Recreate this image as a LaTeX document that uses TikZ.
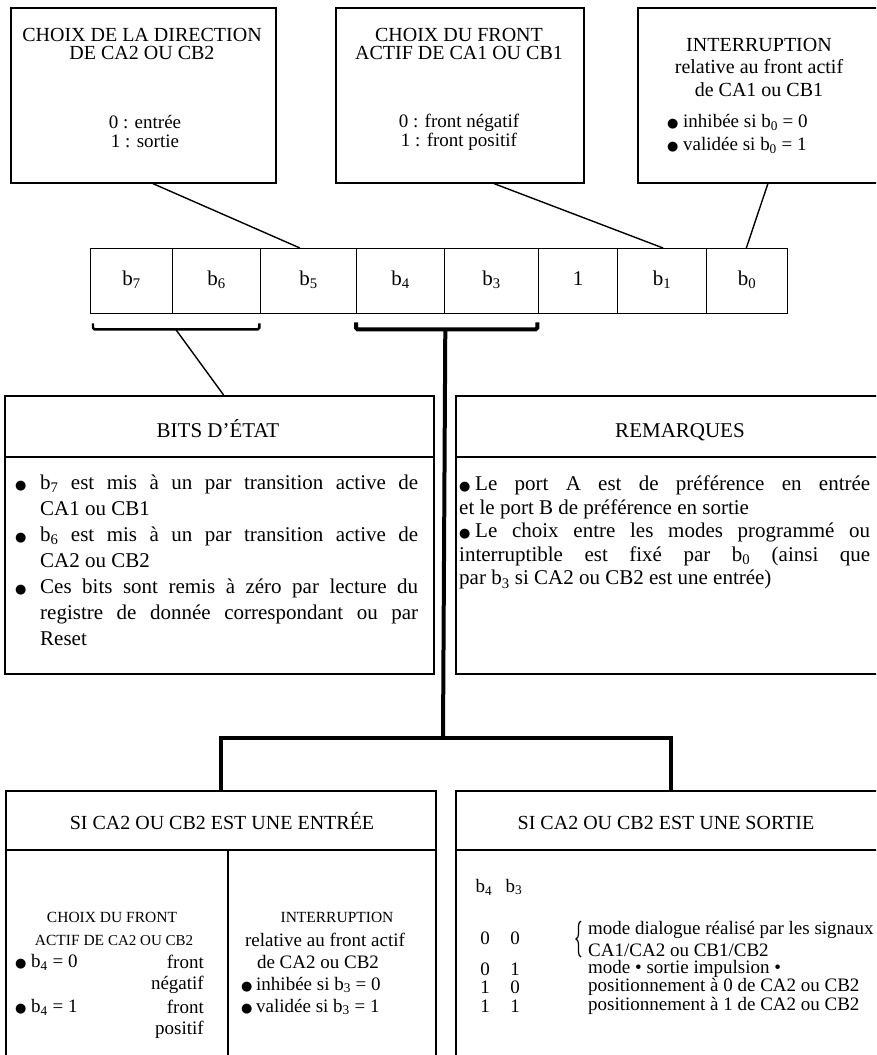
\documentclass[tikz,border=0pt]{standalone}
\usepackage{fontspec}
\setmainfont{Liberation Serif}
\newfontfamily\symfont{DejaVu Sans}
\usetikzlibrary{calc,decorations.pathreplacing}
\newcommand{\bul}{{\symfont\fontsize{13}{13}\selectfont ●}}
\newcommand{\bs}[1]{b\textsubscript{#1}}
\newcommand{\fs}[2]{\fontsize{#1}{#2}\selectfont}
\begin{document}
\begin{tikzpicture}[x=1pt,y=-1pt,
  frame/.style={draw, line width=1.6pt, anchor=north west, inner sep=0pt},
  cell/.style={draw, line width=1.3pt, anchor=north west, inner sep=0pt, minimum height=65pt, text height=14pt, text depth=5pt, font=\fs{21}{21}},
  lightline/.style={line width=1.4pt},
  heavy/.style={line width=4pt},
  divider/.style={line width=1.6pt},
  txt/.style={inner sep=0pt, align=center, font=\fs{20}{18}},
  head/.style={inner sep=0pt, anchor=base, font=\fs{21}{21}},
  ltxt/.style={inner sep=0pt, anchor=west, font=\fs{19}{19}},
  rtxt/.style={inner sep=0pt, anchor=east, font=\fs{19}{19}},
  body/.style={inner sep=0pt, anchor=north west, align=justify}
]
\useasboundingbox (0,0) rectangle (876,1055);
\clip (0,0) rectangle (876,1055);
\fill[white] (0,0) rectangle (876,1055);

% ---------- top boxes ----------
\node[frame, minimum width=265pt, minimum height=175pt] (box1) at (10,7) {};
\node[frame, minimum width=248pt, minimum height=175pt] (box2) at (335,7) {};
\node[frame, minimum width=244pt, minimum height=175pt] (box3) at (637,7) {};

\node[txt] (t1a) at (142,44) {CHOIX DE LA DIRECTION\\DE CA2 OU CB2};
\node[txt, font=\fs{19}{19}] (t1b) at (145,132) {0 : entrée\\1 : sortie};
\node[txt] (t2a) at (459,44) {CHOIX DU FRONT\\ACTIF DE CA1 OU CB1};
\node[txt, font=\fs{19}{19}] (t2b) at (459,132) {0 : front négatif\\1 : front positif};
\node[txt, font=\fs{20}{22.5}] (t3a) at (759,67) {INTERRUPTION\\relative au front actif\\de CA1 ou CB1};
\node[ltxt, align=left, font=\fs{19}{22.5}] (t3b) at (667,134) {\makebox[16pt][l]{\bul}inhibée si \bs{0} = 0\\\makebox[16pt][l]{\bul}validée si \bs{0} = 1};

% ---------- register ----------
\node[cell, minimum width=82pt] (r7) at (90,248) {\bs{7}};
\node[cell, minimum width=88pt] (r6) at (172,248) {\bs{6}};
\node[cell, minimum width=96pt] (r5) at (260,248) {\bs{5}};
\node[cell, minimum width=88pt] (r4) at (356,248) {\bs{4}};
\node[cell, minimum width=94pt] (r3) at (444,248) {\bs{3}};
\node[cell, minimum width=79pt] (r2) at (538,248) {1};
\node[cell, minimum width=89pt] (r1) at (617,248) {\bs{1}};
\node[cell, minimum width=81pt] (r0) at (706,248) {\bs{0}};

\draw[lightline] ($(box1.south west)!0.536!(box1.south east)$) -- ($(r5.north west)!0.41!(r5.north east)$);
\draw[lightline] ($(box2.south west)!0.637!(box2.south east)$) -- ($(r1.north west)!0.51!(r1.north east)$);
\draw[lightline] ($(box3.south west)!0.533!(box3.south east)$) -- ($(r0.north west)!0.49!(r0.north east)$);

% ---------- brackets ----------
\draw[line width=2.4pt, rounded corners=1.5pt] ($(r7.south west)+(3,9)$) -- ($(r7.south west)+(3,15)$) -- ($(r6.south east)+(-2,15)$) -- ($(r6.south east)+(-2,9)$);
\draw[line width=4pt, rounded corners=1.5pt] ($(r4.south west)+(0,8)$) -- ($(r4.south west)+(0,15)$) -- ($(r3.south east)+(-2,15)$) -- ($(r3.south east)+(-2,8)$);
\coordinate (br1) at ($(r7.south west)!0.5!(r6.south east)+(0,15)$);
\coordinate (br2) at ($(r4.south east)+(0,15)$);
\coordinate (hub) at (443,738);

% ---------- middle boxes ----------
\node[frame, minimum width=429pt, minimum height=278pt] (bits) at (4,395) {};
\draw[divider] (4,457) -- (433,457);
\node[head] (bitsh) at (218,437) {BITS D'ÉTAT};
\node[body, text width=403pt, font=\fs{21}{26}] (bitstxt) at (15,475) {%
\hangindent=25pt\hangafter=1\noindent\makebox[25pt][l]{\bul}\bs{7} est mis à un par transition active de\linebreak CA1 ou CB1\par
\hangindent=25pt\hangafter=1\noindent\makebox[25pt][l]{\bul}\bs{6} est mis à un par transition active de\linebreak CA2 ou CB2\par
\hangindent=25pt\hangafter=1\noindent\makebox[25pt][l]{\bul}Ces bits sont remis à zéro par lecture du\linebreak registre de donnée correspondant ou par\linebreak Reset\par};

\node[frame, minimum width=430pt, minimum height=278pt] (rem) at (455,395) {};
\draw[divider] (455,457) -- (885,457);
\node[head] (remh) at (680,437) {REMARQUES};
\node[body, text width=411pt, font=\fs{21}{23.5}] (remtxt) at (459,476) {%
\noindent\makebox[16pt][l]{\bul}Le port A est de préférence en entrée\linebreak et le port B de préférence en sortie\par
\noindent\makebox[16pt][l]{\bul}Le choix entre les modes programmé ou\linebreak interruptible est fixé par \bs{0} (ainsi que\linebreak par \bs{3} si CA2 ou CB2 est une entrée)\par};

% ---------- bottom boxes ----------
\node[frame, minimum width=430pt, minimum height=320pt] (entree) at (5,790) {};
\draw[divider] (5,850) -- (435,850);
\draw[divider] (228,850) -- (228,1110);
\node[head, font=\fs{20}{20}] (enth) at (222,829) {SI CA2 OU CB2 EST UNE ENTRÉE};

\node[frame, minimum width=430pt, minimum height=320pt] (sortie) at (455,790) {};
\draw[divider] (455,850) -- (885,850);
\node[head, font=\fs{20}{20}] (sorh) at (666,829) {SI CA2 OU CB2 EST UNE SORTIE};

% connectors trunk
\draw[lightline] (br1) -- ($(bits.north west)!0.51!(bits.north east)$);
\draw[heavy] (br2) -- (hub);
\draw[heavy] (entree.north) |- (hub) -| (sortie.north);

% entrée contents, left column
\node[head, font=\fs{15.5}{15.5}] (cf1) at (112,922) {CHOIX DU FRONT};
\node[head, font=\fs{15.5}{15.5}] (cf2) at (114,945) {ACTIF DE {\fs{15}{15}CA2 OU CB2}};
\node[ltxt] (cf3) at (15,962) {\makebox[16pt][l]{\bul}\bs{4} = 0};
\node[rtxt] (cf4) at (204,962) {front};
\node[rtxt] (cf5) at (204,985) {négatif};
\node[ltxt] (cf6) at (15,1007) {\makebox[16pt][l]{\bul}\bs{4} = 1};
\node[rtxt] (cf7) at (204,1007) {front};
\node[rtxt] (cf8) at (204,1030) {positif};
% entrée contents, right column
\node[head, font=\fs{15.5}{15.5}] (in1) at (337,922) {INTERRUPTION};
\node[txt, font=\fs{19}{19}] (in2) at (325,940) {relative au front actif};
\node[txt, font=\fs{19}{19}] (in3) at (318,962) {de CA2 ou CB2};
\node[ltxt] (in4) at (241,985) {\makebox[15pt][l]{\bul}inhibée si \bs{3} = 0};
\node[ltxt] (in5) at (241,1007) {\makebox[15pt][l]{\bul}validée si \bs{3} = 1};

% sortie contents
\node[txt, font=\fs{19}{19}] (sb4) at (484,887) {\bs{4}};
\node[txt, font=\fs{19}{19}] (sb3) at (514,887) {\bs{3}};
\node[txt, font=\fs{19}{19}] (s1a) at (485,938) {0};
\node[txt, font=\fs{19}{19}] (s1b) at (515,938) {0};
\draw[line width=1.2pt, decorate, decoration={brace, amplitude=5pt}] (581,957) -- (581,921);
\node[ltxt] (s1t) at (588,930) {mode dialogue réalisé par les signaux};
\node[ltxt] (s1u) at (588,950) {CA1/CA2 ou CB1/CB2};
\node[txt, font=\fs{19}{19}] (s2a) at (485,969) {0};
\node[txt, font=\fs{19}{19}] (s2b) at (515,969) {1};
\node[ltxt] (s2t) at (588,969) {mode • sortie impulsion •};
\node[txt, font=\fs{19}{19}] (s3a) at (485,987) {1};
\node[txt, font=\fs{19}{19}] (s3b) at (515,987) {0};
\node[ltxt] (s3t) at (588,987) {positionnement à 0 de CA2 ou CB2};
\node[txt, font=\fs{19}{19}] (s4a) at (485,1006) {1};
\node[txt, font=\fs{19}{19}] (s4b) at (515,1006) {1};
\node[ltxt] (s4t) at (588,1006) {positionnement à 1 de CA2 ou CB2};
\end{tikzpicture}
\end{document}
